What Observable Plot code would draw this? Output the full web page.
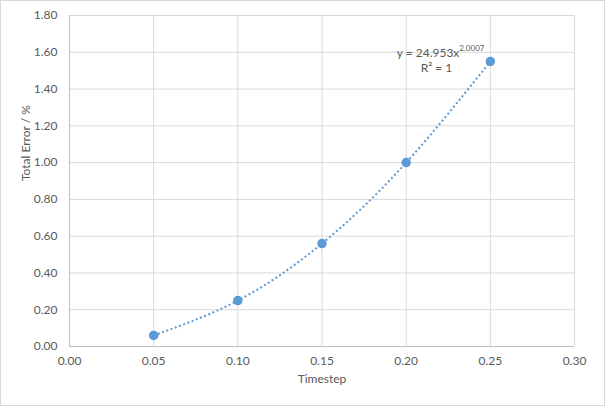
<!DOCTYPE html>
<html>
<head>
<meta charset="utf-8">
<script src="https://cdn.jsdelivr.net/npm/d3@7"></script>
<script src="https://cdn.jsdelivr.net/npm/@observablehq/plot@0.6"></script>
<style>
  html, body { margin: 0; padding: 0; background: #fff; }
  #chart svg { display: block; outline: 1px solid #d9d9d9; outline-offset: -1px; }
</style>
</head>
<body>
<div id="chart"></div>
<script>
const timestep = [0.05, 0.10, 0.15, 0.20, 0.25];
const totalError = [0.06, 0.25, 0.56, 1.00, 1.55];
const xTicks = [0, 0.05, 0.10, 0.15, 0.20, 0.25, 0.30];
const yTicks = [0, 0.2, 0.4, 0.6, 0.8, 1.0, 1.2, 1.4, 1.6, 1.8];
const eqMain = "y = 24.953x";
const eqExp = "2.0007";
const r2Label = "R² = 1";

const data = timestep.map((t, i) => ({x: t, y: totalError[i]}));
const last = [data[data.length - 1]];

const blue = "#5B9BD5";
const txt = "#595959";
const grid = "#D9D9D9";

const chart = Plot.plot({
  width: 605,
  height: 406,
  marginLeft: 69,
  marginRight: 31,
  marginTop: 15,
  marginBottom: 60,
  style: {fontFamily: "Lato, 'Open Sans', sans-serif", fontSize: "12px", color: txt, background: "#fff"},
  x: {domain: [0, 0.30], ticks: xTicks, tickFormat: d3.format(".2f"), label: null, tickSize: 0, tickPadding: 10},
  y: {domain: [0, 1.80], ticks: yTicks, tickFormat: d3.format(".2f"), label: null, tickSize: 0, tickPadding: 12},
  marks: [
    Plot.gridX(xTicks, {stroke: grid, strokeOpacity: 1}),
    Plot.gridY(yTicks, {stroke: grid, strokeOpacity: 1}),
    Plot.ruleX([0], {stroke: "#BFBFBF"}),
    Plot.ruleY([0], {stroke: "#BFBFBF"}),
    Plot.axisX({ticks: xTicks, tickFormat: d3.format(".2f"), tickSize: 0, tickPadding: 10, fill: txt, label: null}),
    Plot.axisY({ticks: yTicks, tickFormat: d3.format(".2f"), tickSize: 0, tickPadding: 12, fill: txt, label: null}),
    Plot.line(data, {x: "x", y: "y", curve: "natural", stroke: blue, strokeWidth: 2, strokeDasharray: "2,2.5", strokeLinecap: "butt"}),
    Plot.dot(data, {x: "x", y: "y", r: 4, fill: blue, stroke: blue}),
    Plot.text(last, {x: "x", y: "y", text: () => eqMain, textAnchor: "end", dx: -31, dy: -8, fill: txt, fontSize: 12}),
    Plot.text(last, {x: "x", y: "y", text: () => eqExp, textAnchor: "start", dx: -31, dy: -13, fill: txt, fontSize: 8}),
    Plot.text(last, {x: "x", y: "y", text: () => r2Label, textAnchor: "end", dx: -38, dy: 7, fill: txt, fontSize: 12}),
    Plot.text(["Timestep"], {frameAnchor: "bottom", dy: 36, fill: txt, fontSize: 12}),
    Plot.text(["Total Error / %"], {frameAnchor: "left", dx: -43, rotate: -90, fill: txt, fontSize: 12})
  ]
});
document.getElementById("chart").appendChild(chart);
</script>
</body>
</html>
